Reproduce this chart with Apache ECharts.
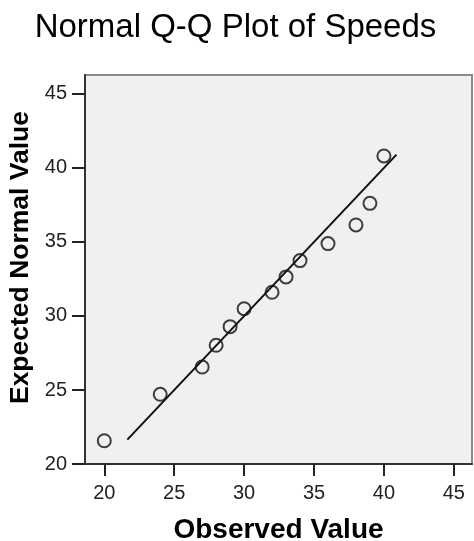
<!DOCTYPE html>
<html>
<head>
<meta charset="utf-8">
<script src="https://cdn.jsdelivr.net/npm/echarts@6/dist/echarts.min.js"></script>
<style>html,body{margin:0;padding:0;background:#fff;}#c{width:474px;height:541px;}</style>
</head>
<body>
<div id="c"></div>
<script>
const chartTitle = 'Normal Q-Q Plot of Speeds';
const xTitle = 'Observed Value';
const yTitle = 'Expected Normal Value';
const observed = [20, 24, 27, 28, 29, 30, 32, 33, 34, 36, 38, 39, 40];
const expected = [21.57, 24.71, 26.55, 28.02, 29.28, 30.49, 31.6, 32.64, 33.74, 34.89, 36.15, 37.61, 40.81];
const refLineX = [21.65, 40.9];
const refLineY = [21.65, 40.9];
const xTicks = [20, 25, 30, 35, 40, 45];
const yTicks = [20, 25, 30, 35, 40, 45];

const font = "'Liberation Sans', Arial, sans-serif";
const chart = echarts.init(document.getElementById('c'), null, {renderer: 'canvas'});
chart.setOption({
  animation: false,
  backgroundColor: '#ffffff',
  title: {
    text: chartTitle, left: 230.5, textAlign: 'center', top: 6,
    textStyle: {fontFamily: font, fontSize: 33, fontWeight: 'normal', color: '#000'}
  },
  grid: {
    left: 85, top: 75, right: 2, bottom: 77,
    containLabel: false, outerBoundsMode: 'none',
    show: true, backgroundColor: '#f0f0f0', borderColor: '#8a8a8a', borderWidth: 2
  },
  xAxis: {
    type: 'value', min: 18.62, max: 46.3,
    name: xTitle, nameLocation: 'middle', nameGap: 52,
    nameTextStyle: {fontFamily: font, fontSize: 28, fontWeight: 'bold', color: '#000'},
    axisLine: {show: true, onZero: false, lineStyle: {color: '#333', width: 2}},
    axisTick: {show: true, length: 12, customValues: xTicks, lineStyle: {color: '#222', width: 2}},
    axisLabel: {customValues: xTicks, margin: 19, fontFamily: font, fontSize: 20, color: '#222'},
    splitLine: {show: false}
  },
  yAxis: {
    type: 'value', min: 20, max: 46.28,
    name: yTitle, nameLocation: 'middle', nameGap: 51,
    nameTextStyle: {fontFamily: font, fontSize: 26.5, fontWeight: 'bold', color: '#000', padding: [0, 0, 0, 24]},
    axisLine: {show: true, onZero: false, lineStyle: {color: '#333', width: 2}},
    axisTick: {show: true, length: 13, customValues: yTicks, lineStyle: {color: '#222', width: 2}},
    axisLabel: {customValues: yTicks, margin: 18, fontFamily: font, fontSize: 20, color: '#222'},
    splitLine: {show: false}
  },
  series: [
    {
      type: 'line',
      data: refLineX.map((x, i) => [x, refLineY[i]]),
      symbol: 'none',
      lineStyle: {color: '#111', width: 2},
      silent: true
    },
    {
      type: 'scatter',
      data: observed.map((x, i) => [x, expected[i]]),
      symbol: 'circle', symbolSize: 13,
      itemStyle: {color: 'rgba(0,0,0,0)', borderColor: '#111', borderWidth: 2}
    }
  ]
});
</script>
</body>
</html>
